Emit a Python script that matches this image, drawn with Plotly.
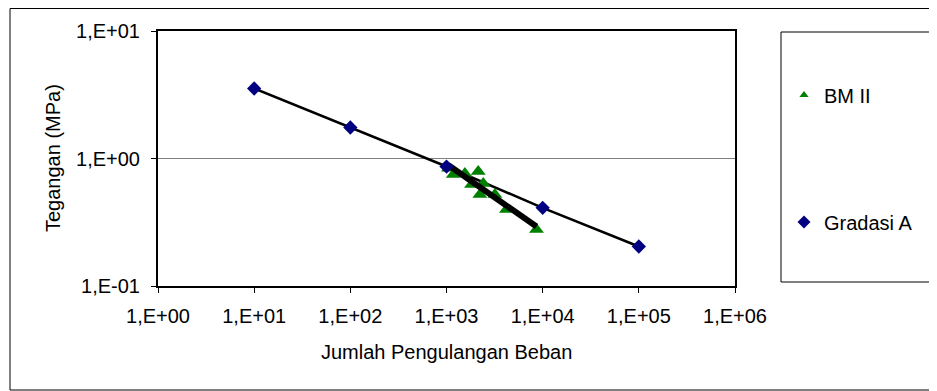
import numpy as np
import plotly.graph_objects as go

# Data
grad_x = [10, 100, 1000, 10000, 100000]
grad_y = [3.54, 1.75, 0.865, 0.41, 0.204]

bm_x = [1050, 1177, 1553, 2138, 1822, 2411, 2222, 3184, 4207, 8624]
bm_y = [0.84, 0.749, 0.763, 0.791, 0.625, 0.637, 0.522, 0.522, 0.398, 0.277]

x_ticks = [1, 10, 100, 1000, 10000, 100000, 1000000]
x_ticklabels = ["1,E+00", "1,E+01", "1,E+02", "1,E+03", "1,E+04", "1,E+05", "1,E+06"]
y_ticks = [0.1, 1, 10]
y_ticklabels = ["1,E-01", "1,E+00", "1,E+01"]

FONT = "Liberation Sans, Arial, sans-serif"
FS = 20
OFF = 8  # browser body margin
W, H = 937 - OFF, 391 - OFF
L, T = 158 - OFF, 31 - OFF
R = W - (735 - OFF)
B = H - (286 - OFF)
pw, ph = W - L - R, H - T - B

# power-law trendline for BM II
lx, ly = np.log10(bm_x), np.log10(bm_y)
k, c = np.polyfit(lx, ly, 1)
tx = np.array([min(bm_x), max(bm_x)])
ty = 10 ** (c + k * np.log10(tx))

fig = go.Figure()
fig.add_trace(go.Scatter(x=grad_x, y=grad_y, mode="lines",
                         line=dict(color="black", width=2.5), showlegend=False, hoverinfo="skip"))
fig.add_trace(go.Scatter(x=bm_x, y=bm_y, mode="markers", name="BM II",
                         marker=dict(symbol="triangle-up", size=13, color="#008000"),
                         showlegend=False))
fig.add_trace(go.Scatter(x=tx, y=ty, mode="lines",
                         line=dict(color="black", width=6), showlegend=False, hoverinfo="skip"))
fig.add_trace(go.Scatter(x=grad_x, y=grad_y, mode="markers", name="Gradasi A",
                         marker=dict(symbol="diamond", size=11, color="#000080"),
                         showlegend=False))
# legend entries (smaller symbols as in the reference legend)
fig.add_trace(go.Scatter(x=[None], y=[None], mode="markers", name="BM II",
                         marker=dict(symbol="triangle-up", size=8, color="#008000"),
                         legend="legend"))
fig.add_trace(go.Scatter(x=[None], y=[None], mode="markers", name="Gradasi A",
                         marker=dict(symbol="diamond", size=10, color="#000080"),
                         legend="legend2"))


def px_x(p):
    return (p - OFF - L) / pw


def px_y(p):
    return (H - B - (p - OFF)) / ph


# outer chart border
fig.add_shape(type="rect", xref="paper", yref="paper",
              x0=px_x(10), x1=px_x(936), y0=px_y(390), y1=px_y(8.5),
              line=dict(color="black", width=1), layer="below")
# legend box
fig.add_shape(type="rect", xref="paper", yref="paper",
              x0=px_x(781), x1=px_x(933), y0=px_y(282), y1=px_y(32),
              line=dict(color="black", width=1), layer="below")

# axis titles
fig.add_annotation(text="Jumlah Pengulangan Beban", xref="paper", yref="paper",
                   x=px_x(446), y=px_y(352), showarrow=False,
                   xanchor="center", yanchor="middle", font=dict(family=FONT, size=FS))
fig.add_annotation(text="Tegangan (MPa)", xref="paper", yref="paper",
                   x=px_x(53), y=px_y(158), showarrow=False, textangle=-90,
                   xanchor="center", yanchor="middle", font=dict(family=FONT, size=FS))

leg_common = dict(font=dict(family=FONT, size=FS, color="black"),
                  bgcolor="rgba(0,0,0,0)", borderwidth=0,
                  xanchor="left", yanchor="middle", itemwidth=30)
fig.update_layout(
    width=W, height=H,
    margin=dict(l=L, r=R, t=T, b=B, autoexpand=False),
    paper_bgcolor="white", plot_bgcolor="white",
    font=dict(family=FONT, size=FS, color="black"),
    legend=dict(x=px_x(784), y=px_y(95), **leg_common),
    legend2=dict(x=px_x(784), y=px_y(222), **leg_common),
    xaxis=dict(type="log", range=[0, 6], tickvals=x_ticks, ticktext=x_ticklabels,
               showgrid=False, zeroline=False, showline=True, linecolor="black",
               linewidth=2, mirror=True, ticks="outside", ticklen=5, tickcolor="black",
               ticklabelstandoff=6, tickfont=dict(family=FONT, size=FS)),
    yaxis=dict(type="log", range=[-1, 1], tickvals=y_ticks, ticktext=y_ticklabels,
               showgrid=True, gridcolor="#808080", gridwidth=1, zeroline=False,
               showline=True, linecolor="black", linewidth=2, mirror=True,
               ticks="outside", ticklen=5, tickcolor="black",
               ticklabelstandoff=7, tickfont=dict(family=FONT, size=FS)),
)

fig.write_html("out.html")
